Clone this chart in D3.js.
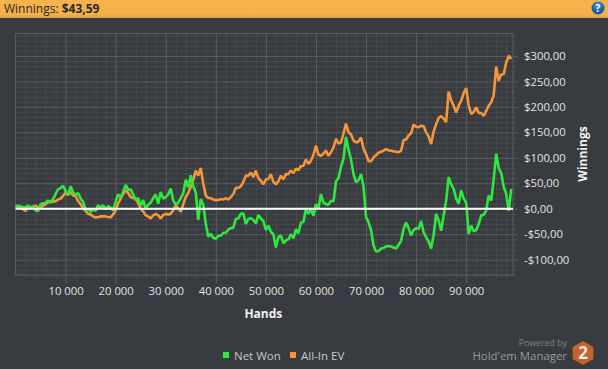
<!DOCTYPE html>
<html>
<head>
<meta charset="utf-8">
<script src="https://cdnjs.cloudflare.com/ajax/libs/d3/7.8.5/d3.min.js"></script>
<style>
  html, body { margin: 0; padding: 0; background: #383b3f; overflow: hidden; }
  svg { display: block; }
  text { font-family: "Open Sans", "Noto Sans", sans-serif; }
</style>
</head>
<body>
<svg id="chart" width="608" height="369"></svg>
<script>
// hands played, in thousands
const hands = [0,.5,1,1.5,2,2.5,3,3.5,4,4.5,5,5.5,6,6.5,7,7.5,8,8.5,9,9.5,
  10,10.5,11,11.5,12,12.5,13,13.5,14,14.5,15,15.5,16,16.5,17,17.5,18,18.5,19,19.5,
  20,20.5,21,21.5,22,22.5,23,23.5,24,24.5,25,25.5,26,26.5,27,27.5,28,28.5,29,29.5,
  30,30.5,31,31.5,32,32.5,33,33.5,34,34.5,35,35.5,36,36.5,37,37.5,38,38.5,39,39.5,
  40,40.5,41,41.5,42,42.5,43,43.5,44,44.5,45,45.5,46,46.5,47,47.5,48,48.5,49,49.5,
  50,50.5,51,51.5,52,52.5,53,53.5,54,54.5,55,55.5,56,56.5,57,57.5,58,58.5,59,59.5,
  60,60.5,61,61.5,62,62.5,63,63.5,64,64.5,65,65.5,66,66.5,67,67.5,68,68.5,69,69.5,
  70,70.5,71,71.5,72,72.5,73,73.5,74,74.5,75,75.5,76,76.5,77,77.5,78,78.5,79,79.5,
  80,80.5,81,81.5,82,82.5,83,83.5,84,84.5,85,85.5,86,86.5,87,87.5,88,88.5,89,89.5,
  90,90.5,91,91.5,92,92.5,93,93.5,94,94.5,95,95.5,96,96.5,97,97.5,98,98.5,99];

const netWon = [5,6,5,3,3,6,3,4,-3,-5,9,11,12,16,13,19,29,38,41,45,
  35,28,44,33,27,31,20,14,-3,0,-6,-1,-4,7,2,7,-1,5,2,-3,
  14,28,23,33,47,37,38,28,17,21,6,17,0,8,12,21,28,10,33,20,
  23,28,40,16,8,12,21,30,57,42,66,44,32,-22,19,8,-30,-55,-49,-57,
  -59,-53,-53,-47,-47,-41,-38,-37,-20,-19,-10,-9,-30,-20,-18,-22,-29,-12,-19,-24,
  -42,-33,-45,-50,-76,-56,-52,-68,-62,-60,-50,-58,-40,-48,-27,-26,0,-10,-1,-14,
  9,0,29,12,9,8,16,14,54,60,82,98,141,116,97,68,52,56,68,43,
  -16,-26,-42,-72,-84,-83,-78,-77,-74,-73,-74,-76,-78,-71,-63,-40,-27,-38,-52,-42,
  -38,-40,-24,-46,-56,-64,-78,-52,-10,-23,-43,-13,16,62,48,39,20,10,36,20,
  12,-50,-33,-44,-42,-30,-13,-12,-3,26,16,58,108,80,70,43,29,-4,39];

const allInEv = [5,4,3,-1,-4,2,3,4,6,3,2,6,9,13,13,14,15,18,20,25,
  32,27,33,26,25,15,9,1,-4,-10,-11,-15,-17,-16,-15,-15,-15,-16,-17,-11,
  -3,11,20,29,36,31,23,21,20,11,0,-5,-13,-15,-19,-13,-10,-13,-19,-12,
  -10,-11,-10,-3,7,1,-6,9,23,31,43,57,75,65,80,49,26,21,21,18,
  17,17,19,18,21,18,23,29,41,41,44,53,65,65,71,62,75,60,55,48,
  58,58,68,53,48,54,65,58,68,68,75,70,79,76,84,84,97,88,94,106,
  124,106,104,108,114,104,111,120,137,128,130,148,167,150,146,134,130,132,140,118,
  107,94,93,101,105,110,112,114,117,115,114,113,112,111,114,135,136,144,148,165,
  161,160,163,162,150,142,127,152,166,178,182,177,170,230,213,202,189,202,212,227,
  237,203,186,190,199,188,188,182,192,202,209,223,279,251,264,264,287,300,294];

const xMajor = [10,20,30,40,50,60,70,80,90];
const xMajorLabels = ["10 000","20 000","30 000","40 000","50 000","60 000","70 000","80 000","90 000"];
const xMinor = [2,4,6,8,12,14,16,18,22,24,26,28,32,34,36,38,42,44,46,48,52,54,56,58,62,64,66,68,72,74,76,78,82,84,86,88,92,94,96,98];
const yMajor = [-100,-50,0,50,100,150,200,250,300];
const yMajorLabels = ["-$100,00","-$50,00","$0,00","$50,00","$100,00","$150,00","$200,00","$250,00","$300,00"];
const yMinor = [-130,-120,-110,-90,-80,-70,-60,-40,-30,-20,-10,10,20,30,40,60,70,80,90,110,120,130,140,160,170,180,190,210,220,230,240,260,270,280,290,310,320,330,340];

const svg = d3.select("#chart");
const plotLeft = 15.5, plotRight = 513, plotTop = 33.5, plotBottom = 275;

const x = d3.scaleLinear().domain([0, 99.35]).range([plotLeft, plotRight]);
const y = d3.scaleLinear().domain([-130, 344]).range([plotBottom, plotTop]);

// top bar
const defs = svg.append("defs");
const barGrad = defs.append("linearGradient").attr("id", "bar").attr("x2", 0).attr("y2", 1);
barGrad.append("stop").attr("offset", 0).attr("stop-color", "#f6b24e");
barGrad.append("stop").attr("offset", 0.8).attr("stop-color", "#f5b04a");
barGrad.append("stop").attr("offset", 1).attr("stop-color", "#d99a40");
svg.append("rect").attr("width", 608).attr("height", 18).attr("fill", "url(#bar)");

const title = svg.append("text").attr("x", 4).attr("y", 13).attr("font-size", 12).attr("fill", "#2a2a2a");
title.append("tspan").text("Winnings: ");
title.append("tspan").attr("font-weight", "bold").text("$43,59");

// help button
const helpGrad = defs.append("radialGradient").attr("id", "help").attr("cy", 0.3);
helpGrad.append("stop").attr("offset", 0).attr("stop-color", "#4f9bd8");
helpGrad.append("stop").attr("offset", 1).attr("stop-color", "#135f9e");
svg.append("circle").attr("cx", 598).attr("cy", 8).attr("r", 6.5).attr("fill", "url(#help)");
svg.append("text").attr("x", 598).attr("y", 11.5).attr("text-anchor", "middle")
  .attr("font-size", 10).attr("font-weight", "bold").attr("fill", "#fff").text("?");

// grid, minor first so the major lines sit on top
function gridAxis(g, axis, color) {
  g.call(axis);
  g.select(".domain").remove();
  g.selectAll("line").attr("stroke", color);
  g.selectAll("text").remove();
}

svg.append("g").attr("transform", `translate(0,${plotBottom})`)
  .call(gridAxis, d3.axisBottom(x).tickValues(xMinor).tickSizeInner(-(plotBottom - plotTop)).tickSizeOuter(0), "#47494d");
svg.append("g").attr("transform", `translate(0,${plotBottom})`)
  .call(gridAxis, d3.axisBottom(x).tickValues(xMinor).tickSizeInner(3).tickSizeOuter(0), "#505356");
svg.append("g").attr("transform", `translate(${plotRight},0)`)
  .call(gridAxis, d3.axisRight(y).tickValues(yMinor).tickSizeInner(-(plotRight - plotLeft)).tickSizeOuter(0), "#47494d");
svg.append("g").attr("transform", `translate(${plotRight},0)`)
  .call(gridAxis, d3.axisRight(y).tickValues(yMinor).tickSizeInner(3).tickSizeOuter(0), "#505356");

// major axes with labels
const xAxis = svg.append("g").attr("transform", `translate(0,${plotBottom})`)
  .call(d3.axisBottom(x).tickValues(xMajor).tickSizeInner(8).tickSizeOuter(0).tickFormat((d, i) => xMajorLabels[i]));
xAxis.select(".domain").remove();
xAxis.selectAll("line").attr("stroke", "#5a5d60").clone().attr("y2", -(plotBottom - plotTop));
xAxis.selectAll("text").attr("font-size", 11.3).attr("fill", "#e2e2e2").attr("y", 10).attr("dy", "0.9em");

const yAxis = svg.append("g").attr("transform", `translate(${plotRight},0)`)
  .call(d3.axisRight(y).tickValues(yMajor).tickSizeInner(5).tickSizeOuter(0).tickFormat((d, i) => yMajorLabels[i]));
yAxis.select(".domain").remove();
yAxis.selectAll("line").attr("stroke", "#5a5d60").clone().attr("x2", -(plotRight - plotLeft));
yAxis.selectAll("text").attr("font-size", 11.3).attr("fill", "#e2e2e2").attr("x", 11);

svg.append("rect").attr("x", plotLeft).attr("y", plotTop).attr("width", plotRight - plotLeft).attr("height", plotBottom - plotTop)
  .attr("fill", "none").attr("stroke", "#5a5d60");

// series
const line = d3.line().x((d, i) => x(hands[i])).y(d => y(d));
svg.append("path").datum(allInEv).attr("d", line).attr("fill", "none")
  .attr("stroke", "#f7953a").attr("stroke-width", 2.6).attr("stroke-linejoin", "bevel");
svg.append("path").datum(netWon).attr("d", line).attr("fill", "none")
  .attr("stroke", "#2fe83f").attr("stroke-width", 2.6).attr("stroke-linejoin", "bevel");

// zero line
svg.append("line").attr("x1", plotLeft).attr("x2", plotRight).attr("y1", y(0)).attr("y2", y(0))
  .attr("stroke", "#fff").attr("stroke-width", 2.2);

// axis titles
svg.append("text").attr("x", x(49.5)).attr("y", 318).attr("text-anchor", "middle")
  .attr("font-size", 12).attr("font-weight", "bold").attr("fill", "#f0f0f0").text("Hands");
svg.append("text").attr("transform", "translate(587,154) rotate(-90)").attr("text-anchor", "middle")
  .attr("font-size", 12).attr("font-weight", "bold").attr("fill", "#f0f0f0").text("Winnings");

// legend
const legendNames = ["Net Won", "All-In EV"];
const legendColors = ["#2fe83f", "#f7953a"];
const legendStart = [223, 290];
legendNames.forEach((name, i) => {
  svg.append("rect").attr("x", legendStart[i]).attr("y", 352).attr("width", 6).attr("height", 6).attr("fill", legendColors[i]);
  svg.append("text").attr("x", legendStart[i] + 11).attr("y", 360).attr("font-size", 11.5).attr("fill", "#c8c8c8").text(name);
});

// logo
svg.append("text").attr("x", 567).attr("y", 346).attr("text-anchor", "end").attr("font-size", 8.8).attr("fill", "#7f8284").text("Powered by");
svg.append("text").attr("x", 567).attr("y", 360).attr("text-anchor", "end").attr("font-size", 11.4).attr("fill", "#97999b").text("Hold'em Manager");
const hex = d3.range(6).map(k => [583 + 12 * Math.sin(k * Math.PI / 3), 353 + 12 * Math.cos(k * Math.PI / 3)]);
svg.append("polygon").attr("points", hex.join(" ")).attr("fill", "#c4622d");
svg.append("text").attr("x", 583).attr("y", 359).attr("text-anchor", "middle").attr("font-size", 17).attr("font-weight", "bold").attr("fill", "#e8e8e8").text("2");
</script>
</body>
</html>
